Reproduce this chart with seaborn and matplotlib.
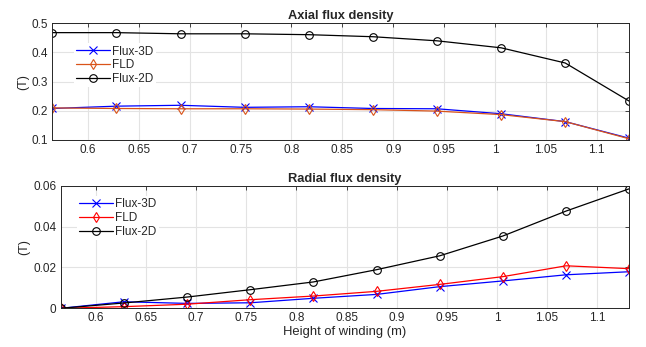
import numpy as np
import pandas as pd
import matplotlib
matplotlib.use("Agg")
import matplotlib.pyplot as plt
import seaborn as sns

height = [0.565, 0.628, 0.691, 0.754, 0.817, 0.880, 0.943, 1.006, 1.069, 1.132]

axial_flux3d = [0.208, 0.216, 0.219, 0.212, 0.214, 0.208, 0.207, 0.190, 0.163, 0.106]
axial_fld    = [0.210, 0.208, 0.207, 0.207, 0.206, 0.204, 0.199, 0.187, 0.163, 0.104]
axial_flux2d = [0.468, 0.468, 0.464, 0.464, 0.461, 0.454, 0.440, 0.416, 0.364, 0.233]

radial_flux3d = [0.0, 0.0032, 0.0024, 0.0027, 0.0049, 0.0068, 0.0106, 0.0134, 0.0164, 0.0179]
radial_fld    = [0.0, 0.0008, 0.0020, 0.0042, 0.0060, 0.0083, 0.0117, 0.0155, 0.0208, 0.0194]
radial_flux2d = [0.0, 0.0026, 0.0055, 0.0091, 0.0129, 0.0189, 0.0257, 0.0354, 0.0476, 0.0585]

series_names = ["Flux-3D", "FLD", "Flux-2D"]
xticks = [0.6, 0.65, 0.7, 0.75, 0.8, 0.85, 0.9, 0.95, 1.0, 1.05, 1.1]
xtick_labels = ["0.6", "0.65", "0.7", "0.75", "0.8", "0.85", "0.9", "0.95", "1", "1.05", "1.1"]
axial_yticks = [0.1, 0.2, 0.3, 0.4, 0.5]
radial_yticks = [0, 0.02, 0.04, 0.06]
radial_ytick_labels = ["0", "0.02", "0.04", "0.06"]

sns.set_theme(style="whitegrid")
plt.rcParams['font.family'] = ['Liberation Sans', 'DejaVu Sans']
plt.rcParams['font.size'] = 8

W, H = 646, 347
fig = plt.figure(figsize=(W / 100, H / 100), dpi=100)

def box(l, r, t, b):
    return [l / W, 1 - b / H, (r - l) / W, (b - t) / H]

ax1 = fig.add_axes(box(52.3, 629.3, 23.3, 140.0))
ax2 = fig.add_axes(box(60.7, 629.3, 185.7, 308.3))

markers = {"Flux-3D": "x", "FLD": "d", "Flux-2D": "o"}

def draw(ax, data, colors, yticks, ylabels, ylim, title, legend_anchor):
    df = pd.DataFrame({
        "height": height * 3,
        "value": data[0] + data[1] + data[2],
        "series": [series_names[0]] * len(height) + [series_names[1]] * len(height) + [series_names[2]] * len(height),
    })
    for name, col in zip(series_names, colors):
        sub = df[df["series"] == name]
        sns.lineplot(data=sub, x="height", y="value", ax=ax, color=col, label=name,
                     marker=markers[name], markersize=5.5 if name != "Flux-3D" else 5.5,
                     mfc="none", mec=col, mew=0.8, linewidth=0.9, estimator=None, sort=False)
    ax.set_xlim(0.565, 1.132)
    ax.set_ylim(*ylim)
    ax.set_xticks(xticks)
    ax.set_xticklabels(xtick_labels)
    ax.set_yticks(yticks)
    ax.set_yticklabels(ylabels)
    ax.set_title(title, fontsize=9.3, fontweight="bold", pad=3)
    ax.set_ylabel("(T)", fontsize=9, labelpad=2)
    ax.set_xlabel("")
    ax.grid(True, color="#e3e3e3", linewidth=0.8)
    for s in ax.spines.values():
        s.set_color("#262626")
        s.set_linewidth(0.7)
    ax.tick_params(axis="both", which="both", direction="in", length=3, width=0.6,
                   colors="#262626", labelsize=8.5, top=True, right=True, pad=3)
    ax.tick_params(axis="both", labelcolor="#262626")
    leg = ax.legend(loc="upper left", bbox_to_anchor=legend_anchor, frameon=True,
                    fontsize=8.5, handlelength=2.85, borderpad=0.2, labelspacing=0.15,
                    handletextpad=0.2, borderaxespad=0)
    leg.get_frame().set_edgecolor("none")
    leg.get_frame().set_facecolor("white")
    leg.get_frame().set_alpha(1)

draw(ax1, [axial_flux3d, axial_fld, axial_flux2d], ["#0000ff", "#d95319", "#000000"],
     axial_yticks, ["0.1", "0.2", "0.3", "0.4", "0.5"], (0.1, 0.5),
     "Axial flux density", (0.037, 0.83))
draw(ax2, [radial_flux3d, radial_fld, radial_flux2d], ["#0000ff", "#ff0000", "#000000"],
     radial_yticks, radial_ytick_labels, (0, 0.06),
     "Radial flux density", (0.028, 0.915))
ax2.set_xlabel("Height of winding (m)", fontsize=9.4, labelpad=1, color="#262626")

fig.savefig("out.png", dpi=100)
